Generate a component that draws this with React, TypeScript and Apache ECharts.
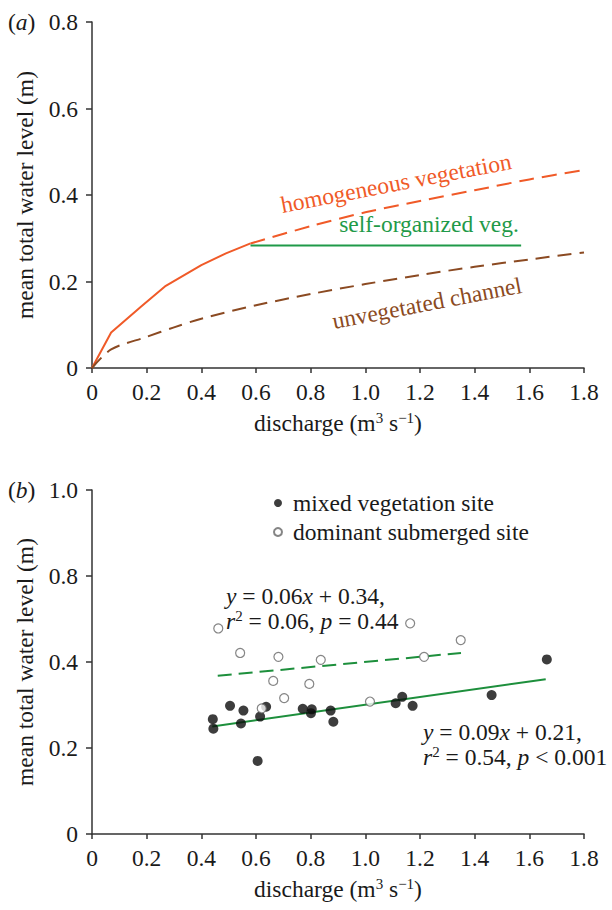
import React, { useEffect, useRef } from "react";
import * as echarts from "echarts";

// ---------- Panel (a) data ----------
const homogSolidQ = [0, 0.07, 0.18, 0.27, 0.4, 0.49, 0.58];
const homogSolidH = [0, 0.082, 0.142, 0.19, 0.238, 0.265, 0.288];
const homogDashQ = [0.58, 0.8, 1.0, 1.2, 1.4, 1.6, 1.8];
const homogDashH = [0.288, 0.328, 0.36, 0.386, 0.411, 0.436, 0.458];
const selfOrgQ = [0.58, 1.57];
const selfOrgH = [0.283, 0.283];
const unvegQ = [0, 0.07, 0.2, 0.3, 0.4, 0.6, 0.8, 1.0, 1.2, 1.4, 1.6, 1.8];
const unvegH = [0, 0.043, 0.072, 0.094, 0.114, 0.145, 0.171, 0.194, 0.215, 0.234, 0.251, 0.267];
const yTickLabelsA = ["0", "0.2", "0.4", "0.6", "0.8"];

// ---------- Panel (b) data ----------
const mixedQ = [0.442, 0.444, 0.505, 0.554, 0.545, 0.615, 0.637, 0.606, 0.771, 0.804, 0.801, 0.873, 0.883, 1.111, 1.135, 1.173, 1.462, 1.664];
const mixedH = [0.267, 0.245, 0.298, 0.287, 0.257, 0.273, 0.296, 0.17, 0.291, 0.29, 0.281, 0.287, 0.261, 0.304, 0.319, 0.298, 0.323, 0.406];
const submQ = [0.462, 0.542, 0.682, 0.837, 0.663, 0.795, 0.703, 0.621, 1.017, 1.164, 1.349, 1.215];
const submH = [0.478, 0.421, 0.412, 0.405, 0.356, 0.349, 0.316, 0.292, 0.308, 0.49, 0.451, 0.412];
const fitMixedQ = [0.44, 1.66];
const fitMixedH = [0.25, 0.36];
const fitSubmQ = [0.46, 1.35];
const fitSubmH = [0.368, 0.421];
const yTickLabelsB = ["0", "0.2", "0.4", "0.8", "1.0"];

const FONT = "Liberation Serif";
const FS = 23.5;
const AX = "#333333";
const TXT = "#1a1a1a";
const ORANGE = "#f05a28";
const GREEN = "#1f9a48";
const BROWN = "#8b4a22";
const GREEN_B = "#1d8f3c";

const zip = (a: number[], b: number[]) => a.map((v, i) => [v, b[i]]);

const xFmt = (v: number) => (Math.abs(v) < 1e-9 ? "0" : v.toFixed(1));

const richName = {
  t: { fontSize: FS, fontFamily: FONT, color: TXT, lineHeight: 26 },
  s: { fontSize: 15, fontFamily: FONT, color: TXT, lineHeight: 14, verticalAlign: "top" },
};

function xAxisCfg(gridIndex: number) {
  return {
    type: "value",
    gridIndex,
    min: 0,
    max: 1.8,
    interval: 0.2,
    axisLine: { show: true, lineStyle: { color: AX, width: 1.5 } },
    axisTick: { show: true, length: 5, lineStyle: { color: AX, width: 1.5 } },
    splitLine: { show: false },
    axisLabel: { color: TXT, fontSize: FS, fontFamily: FONT, margin: 12, formatter: xFmt },
    name: "{t|discharge (m}{s|3}{t| s}{s|−1}{t|)}",
    nameLocation: "middle",
    nameGap: 42,
    nameTextStyle: { fontFamily: FONT, rich: richName },
  };
}

function yAxisCfg(gridIndex: number, labels: string[]) {
  return {
    type: "value",
    gridIndex,
    min: 0,
    max: 0.8,
    interval: 0.2,
    axisLine: { show: true, lineStyle: { color: AX, width: 1.5 } },
    axisTick: { show: true, length: 6, lineStyle: { color: AX, width: 1.5 } },
    splitLine: { show: false },
    axisLabel: {
      color: TXT,
      fontSize: FS,
      fontFamily: FONT,
      margin: 14,
      formatter: (v: number) => labels[Math.round(v / 0.2)] ?? "",
    },
    name: "mean total water level (m)",
    nameLocation: "middle",
    nameGap: 55,
    nameTextStyle: { color: TXT, fontSize: FS, fontFamily: FONT },
  };
}

const eqRich = {
  i: { fontStyle: "italic", fontSize: FS, fontFamily: FONT, fill: TXT, lineHeight: 25 },
  n: { fontSize: FS, fontFamily: FONT, fill: TXT, lineHeight: 25 },
  sup: { fontSize: 15, fontFamily: FONT, fill: TXT, lineHeight: 12, verticalAlign: "top" },
};

export default function App() {
  const ref = useRef<HTMLDivElement>(null);

  useEffect(() => {
    if (!ref.current) return;
    const chart = echarts.init(ref.current, undefined, { renderer: "svg" });

    const option: any = {
      animation: false,
      backgroundColor: "#ffffff",
      textStyle: { fontFamily: FONT },
      grid: [
        { left: 92, width: 492, top: 22, height: 346, containLabel: false },
        { left: 92, width: 492, top: 490, height: 344, containLabel: false },
      ],
      xAxis: [xAxisCfg(0), xAxisCfg(1)],
      yAxis: [yAxisCfg(0, yTickLabelsA), yAxisCfg(1, yTickLabelsB)],
      legend: {
        left: 268,
        top: 486,
        orient: "vertical",
        itemWidth: 8,
        itemHeight: 8,
        itemGap: 5,
        data: ["mixed vegetation site", "dominant submerged site"],
        textStyle: { color: TXT, fontSize: FS, fontFamily: FONT, padding: [0, 0, 0, 6] },
      },
      series: [
        {
          name: "homogeneous vegetation",
          type: "line",
          xAxisIndex: 0,
          yAxisIndex: 0,
          data: zip(homogSolidQ, homogSolidH),
          showSymbol: false,
          lineStyle: { color: ORANGE, width: 2 },
        },
        {
          name: "homogeneous vegetation (extrapolated)",
          type: "line",
          xAxisIndex: 0,
          yAxisIndex: 0,
          data: zip(homogDashQ, homogDashH),
          showSymbol: false,
          smooth: 0.3,
          lineStyle: { color: ORANGE, width: 2, type: [15, 8] },
        },
        {
          name: "self-organized veg.",
          type: "line",
          xAxisIndex: 0,
          yAxisIndex: 0,
          data: zip(selfOrgQ, selfOrgH),
          showSymbol: false,
          lineStyle: { color: GREEN, width: 2 },
        },
        {
          name: "unvegetated channel",
          type: "line",
          xAxisIndex: 0,
          yAxisIndex: 0,
          data: zip(unvegQ, unvegH),
          showSymbol: false,
          smooth: 0.3,
          lineStyle: { color: BROWN, width: 2, type: [14, 8] },
        },
        {
          name: "fit mixed",
          type: "line",
          xAxisIndex: 1,
          yAxisIndex: 1,
          data: zip(fitMixedQ, fitMixedH),
          showSymbol: false,
          lineStyle: { color: GREEN_B, width: 2 },
          z: 1,
        },
        {
          name: "fit submerged",
          type: "line",
          xAxisIndex: 1,
          yAxisIndex: 1,
          data: zip(fitSubmQ, fitSubmH),
          showSymbol: false,
          lineStyle: { color: GREEN_B, width: 2, type: [14, 7] },
          z: 1,
        },
        {
          name: "mixed vegetation site",
          type: "scatter",
          xAxisIndex: 1,
          yAxisIndex: 1,
          data: zip(mixedQ, mixedH),
          symbol: "circle",
          symbolSize: 10,
          itemStyle: { color: "#0d0d0d" },
          z: 3,
        },
        {
          name: "dominant submerged site",
          type: "scatter",
          xAxisIndex: 1,
          yAxisIndex: 1,
          data: zip(submQ, submH),
          symbol: "circle",
          symbolSize: 9,
          itemStyle: { color: "#ffffff", borderColor: "#666666", borderWidth: 1.2 },
          z: 4,
        },
      ],
      graphic: [
        {
          type: "text",
          left: 8,
          top: 10,
          style: {
            text: "({i|a})",
            fontSize: FS,
            fontFamily: FONT,
            fill: TXT,
            rich: { i: { fontStyle: "italic", fontSize: FS, fontFamily: FONT, fill: TXT } },
          },
        },
        {
          type: "text",
          left: 8,
          top: 478,
          style: {
            text: "({i|b})",
            fontSize: FS,
            fontFamily: FONT,
            fill: TXT,
            rich: { i: { fontStyle: "italic", fontSize: FS, fontFamily: FONT, fill: TXT } },
          },
        },
        {
          type: "text",
          x: 396,
          y: 183,
          rotation: 0.19,
          z: 10,
          style: {
            text: "homogeneous vegetation",
            fontSize: FS,
            fontFamily: FONT,
            fill: ORANGE,
            align: "center",
            verticalAlign: "middle",
          },
        },
        {
          type: "text",
          x: 429,
          y: 224,
          z: 10,
          style: {
            text: "self-organized veg.",
            fontSize: FS,
            fontFamily: FONT,
            fill: GREEN,
            align: "center",
            verticalAlign: "middle",
          },
        },
        {
          type: "text",
          x: 427,
          y: 303,
          rotation: 0.19,
          z: 10,
          style: {
            text: "unvegetated channel",
            fontSize: FS,
            fontFamily: FONT,
            fill: BROWN,
            align: "center",
            verticalAlign: "middle",
          },
        },
        {
          type: "text",
          x: 226,
          y: 583,
          z: 10,
          style: {
            text: "{i|y}{n| = 0.06}{i|x}{n| + 0.34,}\n{i|r}{sup|2}{n| = 0.06, }{i|p}{n| = 0.44}",
            fontSize: FS,
            fontFamily: FONT,
            fill: TXT,
            lineHeight: 25,
            align: "left",
            verticalAlign: "top",
            rich: eqRich,
          },
        },
        {
          type: "text",
          x: 423,
          y: 719,
          z: 10,
          style: {
            text: "{i|y}{n| = 0.09}{i|x}{n| + 0.21,}\n{i|r}{sup|2}{n| = 0.54, }{i|p}{n| < 0.001}",
            fontSize: FS,
            fontFamily: FONT,
            fill: TXT,
            lineHeight: 25,
            align: "left",
            verticalAlign: "top",
            rich: eqRich,
          },
        },
      ],
    };

    chart.setOption(option);
    return () => chart.dispose();
  }, []);

  return (
    <div
      ref={ref}
      style={{ position: "absolute", left: 0, top: 0, width: 612, height: 910 }}
    />
  );
}
